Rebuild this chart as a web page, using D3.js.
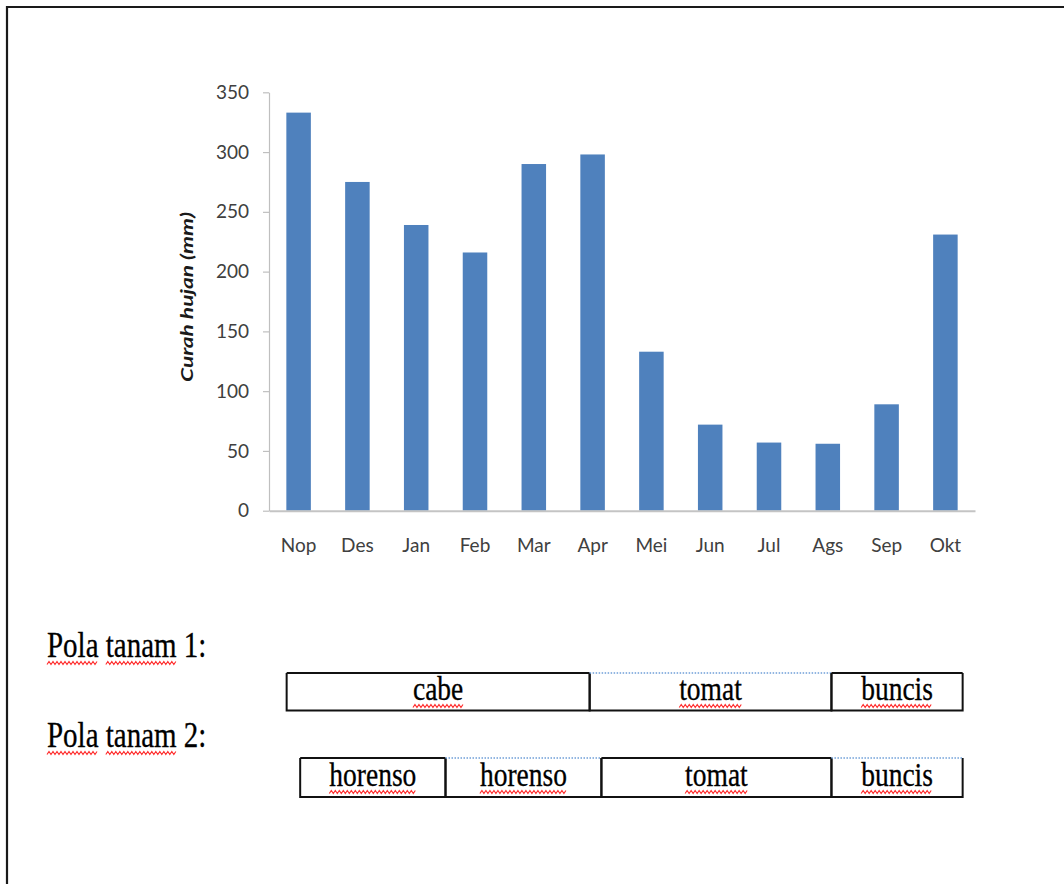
<!DOCTYPE html>
<html>
<head>
<meta charset="utf-8">
<script src="https://cdn.jsdelivr.net/npm/d3@7"></script>
<style>
  body { margin: 0; background: #fff; }
  svg { display: block; }
</style>
</head>
<body>
<svg id="chart" width="1064" height="884"></svg>
<script>
// Monthly rainfall (mm), November through October
const months = ["Nop", "Des", "Jan", "Feb", "Mar", "Apr", "Mei", "Jun", "Jul", "Ags", "Sep", "Okt"];
const rainfall = [333, 275, 239, 216, 290, 298, 133, 72, 57, 56, 89, 231];
const yTicks = [0, 50, 100, 150, 200, 250, 300, 350];
const yTitle = "Curah hujan (mm)";

// Cropping patterns; start/end are in month units from the start of November
const pattern1Label = "Pola tanam 1:";
const pattern1Crops = ["cabe", "tomat", "buncis"];
const pattern1Start = [0.3, 5.45, 9.56];
const pattern1End = [5.45, 9.56, 11.79];
const pattern1Dotted = [false, true, false];

const pattern2Label = "Pola tanam 2:";
const pattern2Crops = ["horenso", "horenso", "tomat", "buncis"];
const pattern2Start = [0.53, 3.0, 5.65, 9.56];
const pattern2End = [3.0, 5.65, 9.56, 11.79];
const pattern2Dotted = [false, true, false, true];

const svg = d3.select("#chart");
const W = 1064, H = 884;

// page frame
svg.append("path")
  .attr("d", `M7,${H} L7,7 L${W},7`)
  .attr("fill", "none")
  .attr("stroke", "#1a1a1a")
  .attr("stroke-width", 2.2);

// ----- bar chart -----
const plot = { left: 269, right: 975, top: 92.3, bottom: 510.7 };
const x = d3.scaleBand(months, [plot.left, plot.right])
  .paddingInner(0.583)
  .paddingOuter(0.295);
const y = d3.scaleLinear([0, 350], [plot.bottom, plot.top]);

const sansFont = "Lato, 'Open Sans', sans-serif";

svg.append("g")
  .selectAll("rect")
  .data(rainfall)
  .join("rect")
  .attr("x", (d, i) => x(months[i]))
  .attr("width", x.bandwidth())
  .attr("y", d => y(d))
  .attr("height", d => y(0) - y(d))
  .attr("fill", "#4f81bd");

const yAxis = svg.append("g")
  .attr("transform", `translate(${plot.left},0)`)
  .call(d3.axisLeft(y).tickValues(yTicks).tickSize(6).tickPadding(14).tickSizeOuter(0));
yAxis.select(".domain").attr("stroke", "#bfbfbf").attr("stroke-width", 1.2);
yAxis.selectAll(".tick line").attr("stroke", "#bfbfbf").attr("stroke-width", 1.2);
yAxis.selectAll(".tick text")
  .attr("fill", "#404040")
  .style("font-family", sansFont)
  .style("font-size", "19px");

const xAxis = svg.append("g")
  .attr("transform", `translate(0,${plot.bottom})`)
  .call(d3.axisBottom(x).tickSize(0).tickPadding(28).tickSizeOuter(0));
xAxis.select(".domain").attr("stroke", "#c4c4c4").attr("stroke-width", 2);
xAxis.selectAll(".tick text")
  .attr("fill", "#404040")
  .style("font-family", sansFont)
  .style("font-size", "19px");

svg.append("text")
  .attr("transform", `translate(193,297) rotate(-90)`)
  .attr("text-anchor", "middle")
  .attr("textLength", 170)
  .attr("lengthAdjust", "spacingAndGlyphs")
  .style("font-family", sansFont)
  .style("font-size", "17px")
  .style("font-weight", "bold")
  .style("font-style", "italic")
  .attr("fill", "#1a1a1a")
  .text(yTitle);

// ----- cropping-pattern tables -----
const serif = "'Liberation Serif', 'Times New Roman', serif";
const stretch = 1.24;   // tall serif lettering
const monthPos = d3.scaleLinear([0, months.length], [plot.left, plot.right]);

// red wavy spell-check underline below a word
function wavy(g, x0, x1, yb) {
  const pts = [];
  const step = 2;
  for (let px = x0, k = 0; px <= x1; px += step, k++) {
    pts.push([px, yb + (k % 2 ? 0 : 3)]);
  }
  g.append("path")
    .attr("d", d3.line()(pts))
    .attr("fill", "none")
    .attr("stroke", "#ff3030")
    .attr("stroke-width", 1.2);
}

function measure(g, str, size) {
  const probe = g.append("text")
    .style("font-family", serif).style("font-size", size + "px").text(str);
  const w = probe.node().getComputedTextLength();
  probe.remove();
  return w;
}

// serif text with selected words underlined
function serifText(g, str, xPos, baseline, anchor, size, underlineWords) {
  const t = g.append("text")
    .attr("transform", `translate(${xPos},${baseline}) scale(1,${stretch})`)
    .attr("text-anchor", anchor)
    .style("font-family", serif)
    .style("font-size", size + "px")
    .attr("fill", "#000")
    .attr("stroke", "#000")
    .attr("stroke-width", 0.25)
    .text(str);
  const total = t.node().getComputedTextLength();
  const left = xPos + (anchor === "middle" ? -total / 2 : 0);
  const xw = measure(g, "x", size);
  let offset = 0;
  str.split(" ").forEach((w, wi) => {
    const ww = measure(g, w, size);
    if (underlineWords[wi]) wavy(g, left + offset, left + offset + ww, baseline + 4.5);
    offset += measure(g, w + " x", size) - xw;
  });
}

function drawPattern(label, labelBaseline, crops, starts, ends, dotted, top, bottom, textBaseline) {
  const g = svg.append("g");
  serifText(g, label, 47, labelBaseline, "start", 29, [true, true, false]);
  crops.forEach((c, i) => {
    const x0 = monthPos(starts[i]), x1 = monthPos(ends[i]);
    g.append("path")
      .attr("d", `M${x0},${top} L${x0},${bottom} L${x1},${bottom} L${x1},${top}`)
      .attr("fill", "none")
      .attr("stroke", "#111")
      .attr("stroke-width", 2);
    g.append("line")
      .attr("x1", x0).attr("x2", x1)
      .attr("y1", top).attr("y2", top)
      .attr("stroke", dotted[i] ? "#6f9fd8" : "#111")
      .attr("stroke-width", dotted[i] ? 1.3 : 2)
      .attr("stroke-dasharray", dotted[i] ? "1.5,1.5" : null);
    serifText(g, c, (x0 + x1) / 2, textBaseline, "middle", 27.5, [true]);
  });
}

drawPattern(pattern1Label, 657, pattern1Crops, pattern1Start, pattern1End, pattern1Dotted, 673, 710.5, 700);
drawPattern(pattern2Label, 747, pattern2Crops, pattern2Start, pattern2End, pattern2Dotted, 758, 797, 786);
</script>
</body>
</html>
